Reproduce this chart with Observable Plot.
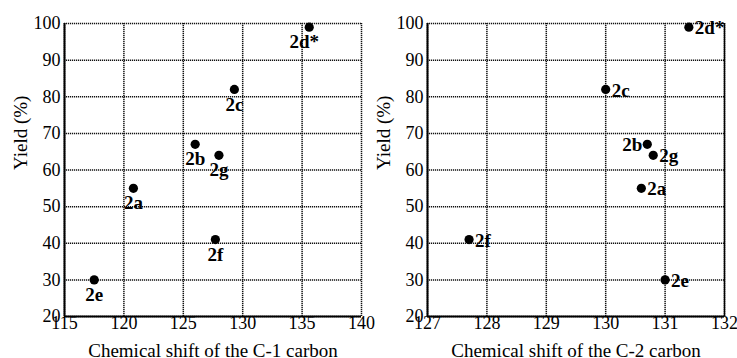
<!DOCTYPE html>
<html><head><meta charset="utf-8">
<script src="https://cdn.jsdelivr.net/npm/d3@7"></script>
<script src="https://cdn.jsdelivr.net/npm/@observablehq/plot@0.6"></script>
<style>
body{margin:0;background:#fff;}
#wrap{display:flex;width:737px;height:358px;}
#wrap svg{overflow:visible;flex:none;}
</style></head><body><div id="wrap"></div>
<script>
// ---- data ----
const compounds = ["2a", "2b", "2c", "2d*", "2e", "2f", "2g"];
const yieldPct  = [55, 67, 82, 99, 30, 41, 64];
const shiftC1   = [120.8, 126.0, 129.3, 135.6, 117.5, 127.7, 128.0];
const shiftC2   = [130.6, 130.7, 130.0, 131.4, 131.0, 127.7, 130.8];
const xTicksC1  = [115, 120, 125, 130, 135, 140];
const xTicksC2  = [127, 128, 129, 130, 131, 132];
const yTicks    = [20, 30, 40, 50, 60, 70, 80, 90, 100];
const xTitleC1  = "Chemical shift of the C-1 carbon";
const xTitleC2  = "Chemical shift of the C-2 carbon";
const yTitle    = "Yield (%)";

// ---- rendering ----
const FONT = "'Liberation Serif', 'Times New Roman', serif";
const gridStyle = {stroke: "#111", strokeOpacity: 1, strokeWidth: 1.5, strokeDasharray: "1.2,0.8"};
const fmt = d => String(d);

function panel({xs, xTicks, xTitle, width, marginLeft, marginRight, labelOpts, rightSolid}) {
  const rows = compounds.map((c, i) => ({c, x: xs[i], y: yieldPct[i], i}));
  const xDom = [xTicks[0], xTicks[xTicks.length - 1]];
  return Plot.plot({
    width, height: 358,
    marginLeft, marginRight, marginTop: 23, marginBottom: 42,
    style: {fontFamily: FONT, fontSize: "18px", color: "#000", background: "none", overflow: "visible"},
    x: {domain: xDom, axis: null},
    y: {domain: [20, 100], axis: null},
    marks: [
      Plot.gridX(xTicks, gridStyle),
      Plot.gridY(yTicks, gridStyle),
      Plot.ruleX([xDom[0]], {stroke: "#000", strokeWidth: 2}),
      Plot.ruleY([20], {stroke: "#000", strokeWidth: 2}),
      rightSolid ? Plot.ruleX([xDom[1]], {stroke: "#000", strokeWidth: 1.5}) : null,
      // tick labels
      Plot.text(xTicks, {x: d => d, text: fmt, frameAnchor: "bottom", lineAnchor: "top", dy: 0, fontSize: 18}),
      Plot.text(yTicks, {y: d => d, text: fmt, frameAnchor: "left", textAnchor: "end", dx: -4, fontSize: 18}),
      // axis titles
      Plot.text([xTitle], {frameAnchor: "bottom", lineAnchor: "bottom", dy: 40, fontSize: 19}),
      Plot.text([yTitle], {frameAnchor: "left", rotate: -90, lineAnchor: "top", dx: -51, fontSize: 19}),
      Plot.dot(rows, {x: "x", y: "y", r: 4.6, fill: "#000", stroke: null}),
      ...labelOpts(rows)
    ]
  });
}

const wrap = document.getElementById("wrap");

wrap.appendChild(panel({
  xs: shiftC1, xTicks: xTicksC1, xTitle: xTitleC1, width: 368, marginLeft: 64, marginRight: 7,
  rightSolid: false,
  labelOpts: rows => [
    Plot.text(rows.filter(d => d.c !== "2d*"), {x: "x", y: "y", text: "c", dy: 15, fontWeight: "bold", fontSize: 19}),
    Plot.text(rows.filter(d => d.c === "2d*"), {x: "x", y: "y", text: "c", dy: 15, dx: -5, fontWeight: "bold", fontSize: 19})
  ]
}));

wrap.appendChild(panel({
  xs: shiftC2, xTicks: xTicksC2, xTitle: xTitleC2, width: 369, marginLeft: 59, marginRight: 13,
  rightSolid: true,
  labelOpts: rows => [
    Plot.text(rows.filter(d => d.c !== "2b"), {x: "x", y: "y", text: "c", dx: 6, dy: 1, textAnchor: "start", fontWeight: "bold", fontSize: 19}),
    Plot.text(rows.filter(d => d.c === "2b"), {x: "x", y: "y", text: "c", dx: -5, dy: 1, textAnchor: "end", fontWeight: "bold", fontSize: 19})
  ]
}));
</script></body></html>
